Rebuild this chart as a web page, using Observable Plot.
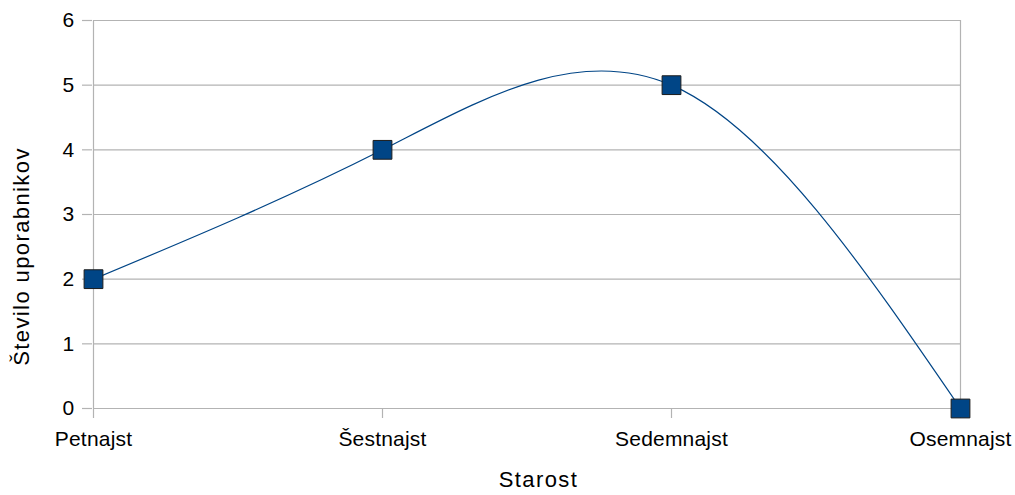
<!DOCTYPE html>
<html>
<head>
<meta charset="utf-8">
<script src="https://cdn.jsdelivr.net/npm/d3@7"></script>
<script src="https://cdn.jsdelivr.net/npm/@observablehq/plot@0.6"></script>
<style>
  html, body { margin: 0; padding: 0; background: #fff; }
  svg { font-family: "Liberation Sans", Arial, sans-serif; }
  .title-text text { letter-spacing: 1.4px; }
  .tick-text text { letter-spacing: 0.2px; }
</style>
</head>
<body>
<div id="chart"></div>
<script>
const categories = ["Petnajst", "Šestnajst", "Sedemnajst", "Osemnajst"];
const values = [2, 4, 5, 0];
const yTicks = [0, 1, 2, 3, 4, 5, 6];
const xTitle = "Starost";
const yTitle = "Število uporabnikov";

const data = categories.map((c, i) => ({ cat: c, val: values[i] }));
const gridColor = "#b3b3b3";
const seriesColor = "#004586";

const chart = Plot.plot({
  width: 1015,
  height: 495,
  marginLeft: 92,
  marginRight: 55,
  marginTop: 20,
  marginBottom: 87,
  style: { fontFamily: "'Liberation Sans', Arial, sans-serif", fontSize: "21px", color: "#000", background: "#fff" },
  x: { type: "point", domain: categories, padding: 0 },
  y: { domain: [0, 6] },
  marks: [
    Plot.ruleY(yTicks, { x1: () => categories[0], x2: () => categories[3], y: d => d, stroke: gridColor, strokeWidth: 1.2 }),
    Plot.ruleX([categories[0], categories[3]], { x: d => d, y1: 6, y2: 0, stroke: gridColor, strokeWidth: 1.2 }),
    Plot.axisY({ ticks: yTicks, tickSize: 10, tickPadding: 8, stroke: gridColor, strokeWidth: 1.2, label: null, fontSize: 21, fill: "#000", className: "tick-text", tickFormat: d => String(d) }),
    Plot.axisX({ tickSize: 10, tickPadding: 13, stroke: gridColor, strokeWidth: 1.2, label: null, fontSize: 21, fill: "#000", className: "tick-text" }),
    Plot.line(data, { x: "cat", y: "val", curve: "natural", stroke: seriesColor, strokeWidth: 1.2 }),
    Plot.dot(data, { x: "cat", y: "val", symbol: "square", r: 10.6, fill: seriesColor, stroke: "#1c1c1c", strokeWidth: 1 }),
    Plot.text([xTitle], { frameAnchor: "bottom", dx: 12, dy: 78, text: d => d, fontSize: 22, fill: "#000", className: "title-text" }),
    Plot.text([yTitle], { frameAnchor: "left", textAnchor: "middle", dx: -71, dy: 42, rotate: -90, text: d => d, fontSize: 22, fill: "#000", className: "title-text" })
  ]
});
document.getElementById("chart").appendChild(chart);
</script>
</body>
</html>
